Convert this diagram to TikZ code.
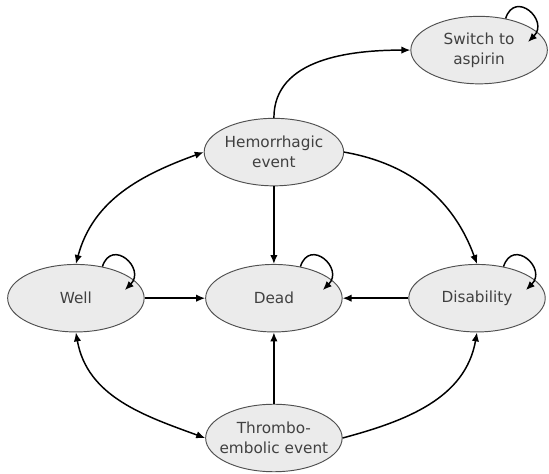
\documentclass[tikz,border=0pt]{standalone}
\usepackage{fontspec}
\setmainfont{DejaVu Sans}
\usetikzlibrary{shapes.geometric,arrows.meta}
\definecolor{nodefill}{HTML}{EBEBEB}
\definecolor{nodeline}{HTML}{505050}
\definecolor{nodetext}{HTML}{404040}
\tikzset{
  health/.style={ellipse, draw=nodeline, fill=nodefill, line width=0.9pt,
    minimum width=4.55cm, minimum height=2.25cm, inner sep=0pt,
    align=center, text=nodetext, font=\fontsize{14.5}{19}\selectfont},
  trans/.style={line width=1.4pt, -{Latex[length=8.5pt,width=7pt]}},
  both/.style={line width=1.4pt, {Latex[length=8.5pt,width=7pt]}-{Latex[length=8.5pt,width=7pt]}}
}
\begin{document}
\begin{tikzpicture}
  \useasboundingbox (0,0) rectangle (18.3,15.77);
  % estados
  \node[health] (well)    at (2.53,5.83)  {Well};
  \node[health] (dead)    at (9.13,5.83)  {Dead};
  \node[health] (disab)   at (15.9,5.83)  {Disability};
  \node[health] (hem)     at (9.13,10.7)  {Hemorrhagic\\event};
  \node[health, inner xsep=-0.4cm] (thrombo) at (9.13,1.17) {Thrombo-\\embolic event};
  \node[health] (switch)  at (15.97,14.1) {Switch to\\aspirin};
  % transiciones
  \draw[trans] (hem.north) to[out=90,in=180] (switch.west);
  \draw[both] (well.north) to[out=75,in=200] (hem.west);
  \draw[trans] (hem.east) to[out=-10,in=110] (disab.north);
  \draw[both] (well.south) to[out=-80,in=160] (thrombo.west);
  \draw[trans] (thrombo.east) to[out=15,in=-100] (disab.south);
  \draw[trans] (hem.south) -- (dead.north);
  \draw[trans] (thrombo.north) -- (dead.south);
  \draw[trans] (well.east) -- (dead.west);
  \draw[trans] (disab.west) -- (dead.east);
  % bucles
  \draw[trans] (well.50) to[out=72,in=45,looseness=2.4] ([shift={(1.63,0.27)}]well.center);
  \draw[trans] (dead.50) to[out=72,in=45,looseness=2.4] ([shift={(1.63,0.27)}]dead.center);
  \draw[trans] (disab.50) to[out=72,in=45,looseness=2.4] ([shift={(1.63,0.27)}]disab.center);
  \draw[trans] (switch.50) to[out=72,in=45,looseness=2.4] ([shift={(1.63,0.27)}]switch.center);
\end{tikzpicture}
\end{document}
